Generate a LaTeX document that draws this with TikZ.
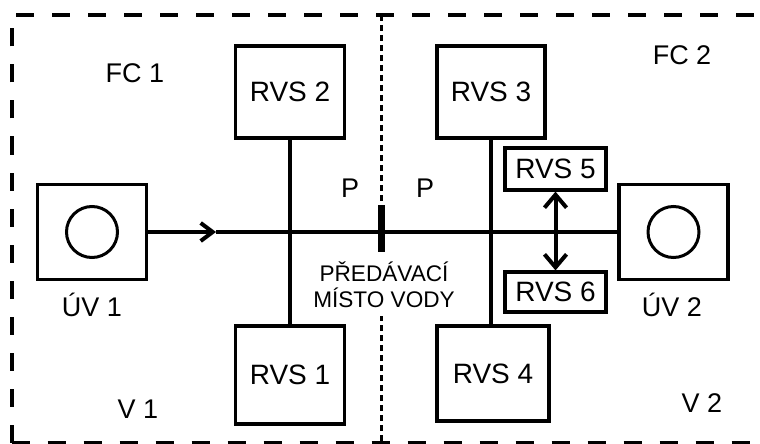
\documentclass[tikz,border=0pt]{standalone}
\usepackage{fontspec}
\setmainfont{Liberation Sans}
\usetikzlibrary{arrows.meta}

\tikzset{
  txt/.style={font=\fontsize{13.5}{12}\selectfont},
  unit/.style={draw, line width=1.6pt, minimum width=54.5pt, minimum height=47.5pt},
  rvsbox/.style={draw, line width=1.6pt, inner sep=0pt, font=\fontsize{14}{12}\selectfont},
  lbl/.style={txt, anchor=base, inner sep=0pt},
  pipe/.style={line width=2pt},
  flowbarb/.tip={Straight Barb[length=6pt,width=9pt]},
  swapbarb/.tip={Straight Barb[length=6.5pt,width=11pt]},
  border/.style={line width=2pt, dash pattern=on 9pt off 9pt},
  boundary/.style={line width=1.5pt, dash pattern=on 3pt off 2pt},
}

\begin{document}
\begin{tikzpicture}[x=0.5pt, y=-0.5pt]
\useasboundingbox (0,0) rectangle (760,444);
% frame, its right side lies outside the picture
\draw[border] (11.5,442.5) -- (11.5,15) -- (790,15);
\draw[border] (11.5,442.5) -- (790,442.5);

% boundary between the two parts
\coordinate (bt) at (381.5,15);
\coordinate (bb) at (381.5,442.5);
\draw[boundary] (bt) -- (bb);
\node[font=\fontsize{11.3}{13}\selectfont, fill=white, align=center, inner xsep=1pt, inner ysep=4pt] (handtext) at (384,285) {PŘEDÁVACÍ\\MÍSTO VODY};

% sources
\node[unit] (uv1) at (92,232) {};
\node[draw, circle, line width=1.5pt, minimum size=25.5pt] (uv1c) at (uv1) {};
\node[unit] (uv2) at (673.5,232) {};
\node[draw, circle, line width=1.5pt, minimum size=25.5pt] (uv2c) at (uv2) {};
\node[lbl] (uv1l) at (92,316) {ÚV 1};
\node[lbl] (uv2l) at (672,316) {ÚV 2};

% consumers
\node[rvsbox, minimum width=54.5pt, minimum height=46pt] (rvs2) at (290,92) {RVS 2};
\node[rvsbox, minimum width=54.5pt, minimum height=49pt] (rvs1) at (290,375) {RVS 1};
\node[rvsbox, minimum width=54pt, minimum height=46pt] (rvs3) at (491,92) {RVS 3};
\node[rvsbox, minimum width=56pt, minimum height=47.5pt] (rvs4) at (493,373.5) {RVS 4};
\node[rvsbox, minimum width=50.5pt, minimum height=21pt] (rvs5) at (555.5,169) {RVS 5};
\node[rvsbox, minimum width=50.5pt, minimum height=20pt] (rvs6) at (555.5,292) {RVS 6};

% pipes
\coordinate (arr) at (216,232);
\draw[pipe, -flowbarb] (uv1.east) -- (arr);
\draw[pipe] (arr) -- (uv2.west);
\draw[pipe] (rvs2.south) -- (rvs1.north);
\draw[pipe] (rvs3.south) -- (rvs3.south |- rvs4.north);
\draw[pipe, swapbarb-swapbarb] (rvs5.south) -- (rvs6.north);
\node[fill=black, inner sep=0pt, minimum width=3.5pt, minimum height=23.5pt] (handover) at (381.5,228.5) {};

% labels
\node[lbl] (fc1) at (135,83) {FC 1};
\node[lbl] (fc2) at (682,65) {FC 2};
\node[lbl] (v1) at (138,418) {V 1};
\node[lbl] (v2) at (702,412) {V 2};
\node[lbl] (p1) at (350,197) {P};
\node[lbl] (p2) at (425,197) {P};
\end{tikzpicture}
\end{document}
